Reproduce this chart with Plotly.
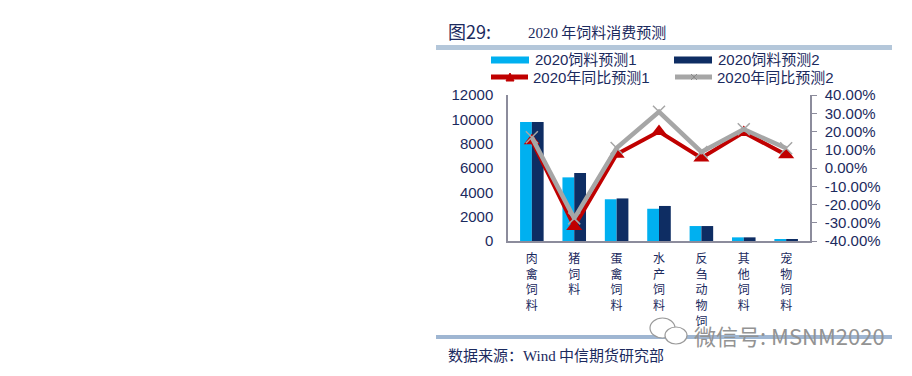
import plotly.graph_objects as go

# ---------------- data ----------------
categories = ["肉禽饲料", "猪饲料", "蛋禽饲料", "水产饲料", "反刍动物饲料", "其他饲料", "宠物饲料"]
feed_pred1 = [9780, 5230, 3430, 2650, 1230, 300, 110]
feed_pred2 = [9780, 5590, 3500, 2880, 1230, 300, 110]
yoy_pred1 = [0.150, -0.320, 0.075, 0.200, 0.055, 0.195, 0.072]
yoy_pred2 = [0.168, -0.276, 0.110, 0.308, 0.088, 0.212, 0.108]
left_tick_vals = [0, 2000, 4000, 6000, 8000, 10000, 12000]
left_tick_text = ["0", "2000", "4000", "6000", "8000", "10000", "12000"]
right_tick_vals = [-0.4, -0.3, -0.2, -0.1, 0.0, 0.1, 0.2, 0.3, 0.4]
right_tick_text = ["-40.00%", "-30.00%", "-20.00%", "-10.00%", "0.00%",
                   "10.00%", "20.00%", "30.00%", "40.00%"]
series_names = ["2020饲料预测1", "2020饲料预测2", "2020年同比预测1", "2020年同比预测2"]

# ---------------- geometry ----------------
OFF = 8                      # page body margin
W, H = 912 - 2 * OFF, 376 - 2 * OFF
PL, PR, PT, PB = 508, 810, 95, 241   # plot area in window pixels


def px(x):
    return (x - PL) / (PR - PL)


def py(y):
    return (PB - y) / (PB - PT)


NAVY = "#1b2a5e"
LIGHT = "#00b0f0"
DARK = "#0e2d63"
RED = "#c00000"
GRAY = "#a6a6a6"
AXIS = "#8c8c9c"
SANS = "Liberation Sans, Arial, Noto Sans CJK SC, sans-serif"
CJK = "Noto Sans CJK SC, sans-serif"

tick_text = ["<br>".join(list(c)) for c in categories]

fig = go.Figure()
fig.add_trace(go.Bar(x=categories, y=feed_pred1, name=series_names[0],
                     marker=dict(color=LIGHT, line=dict(width=0)), yaxis="y"))
fig.add_trace(go.Bar(x=categories, y=feed_pred2, name=series_names[1],
                     marker=dict(color=DARK, line=dict(width=0)), yaxis="y"))
fig.add_trace(go.Scatter(x=categories, y=yoy_pred1, name=series_names[2], yaxis="y2",
                         mode="lines+markers", line=dict(color=RED, width=4),
                         marker=dict(symbol="triangle-up", size=14, color=RED)))
fig.add_trace(go.Scatter(x=categories, y=yoy_pred2, name=series_names[3], yaxis="y2",
                         mode="lines+markers", line=dict(color=GRAY, width=4.5),
                         marker=dict(symbol="x-thin-open", size=12,
                                     line=dict(color=GRAY, width=1.5), color=GRAY)))

shapes = []
annotations = []

# top and bottom bars
shapes.append(dict(type="rect", xref="paper", yref="paper", x0=px(436), x1=px(892),
                   y0=py(45), y1=py(50), fillcolor="#b4c7da", line=dict(width=0)))
# white mask clipping the long category label
shapes.append(dict(type="rect", xref="paper", yref="paper", x0=px(436), x1=px(892),
                   y0=py(326), y1=py(376), fillcolor="white", line=dict(width=0), layer="above"))
shapes.append(dict(type="rect", xref="paper", yref="paper", x0=px(436), x1=px(892),
                   y0=py(335), y1=py(339), fillcolor="#9fb6d2", line=dict(width=0), layer="above"))

# title
annotations.append(dict(x=px(446), y=py(31), xref="paper", yref="paper", xanchor="left",
                        yanchor="middle", showarrow=False, text="图29:",
                        font=dict(family=CJK, size=18, color=NAVY)))
annotations.append(dict(x=px(526), y=py(31), xref="paper", yref="paper", xanchor="left",
                        yanchor="middle", showarrow=False,
                        text="<span style='font-family:Liberation Serif'>2020</span> 年饲料消费预测",
                        font=dict(family=CJK, size=15, color=NAVY)))

# custom legend
leg = [(491, 60, series_names[0], "bar", LIGHT),
       (674, 60, series_names[1], "bar", DARK),
       (489, 77, series_names[2], "line_tri", RED),
       (673, 77, series_names[3], "line_x", GRAY)]
for x0, yc, name, kind, col in leg:
    if kind == "bar":
        shapes.append(dict(type="rect", xref="paper", yref="paper", x0=px(x0), x1=px(x0 + 38),
                           y0=py(yc + 3.5), y1=py(yc - 3.5), fillcolor=col, line=dict(width=0)))
    else:
        shapes.append(dict(type="line", xref="paper", yref="paper", x0=px(x0 + 2), x1=px(x0 + 39),
                           y0=py(yc), y1=py(yc), line=dict(color=col, width=5)))
        cx = x0 + 21
        if kind == "line_tri":
            shapes.append(dict(type="path", xref="paper", yref="paper",
                               path=f"M {px(cx-4)} {py(yc+4)} L {px(cx+4)} {py(yc+4)} L {px(cx)} {py(yc-4)} Z",
                               fillcolor=col, line=dict(color=col, width=1)))
        else:
            shapes.append(dict(type="line", xref="paper", yref="paper", x0=px(cx - 3), x1=px(cx + 3),
                               y0=py(yc - 3), y1=py(yc + 3), line=dict(color="#8a8a8a", width=1)))
            shapes.append(dict(type="line", xref="paper", yref="paper", x0=px(cx - 3), x1=px(cx + 3),
                               y0=py(yc + 3), y1=py(yc - 3), line=dict(color="#8a8a8a", width=1)))
    annotations.append(dict(x=px(x0 + 42), y=py(yc), xref="paper", yref="paper", xanchor="left",
                            yanchor="middle", showarrow=False, text=name,
                            font=dict(family=SANS, size=15, color=NAVY)))

# source
annotations.append(dict(x=px(446), y=py(354), xref="paper", yref="paper", xanchor="left",
                        yanchor="middle", showarrow=False,
                        text="数据来源：<span style='font-family:Liberation Serif'>Wind</span> 中信期货研究部",
                        font=dict(family=CJK, size=15, color=NAVY)))

# watermark
shapes.append(dict(type="circle", xref="paper", yref="paper", x0=px(650), x1=px(675),
                   y0=py(318), y1=py(338), line=dict(color="#9a9a9a", width=1.2),
                   fillcolor="white", layer="above"))
shapes.append(dict(type="circle", xref="paper", yref="paper", x0=px(665), x1=px(687),
                   y0=py(327), y1=py(344), line=dict(color="#9a9a9a", width=1.2),
                   fillcolor="white", layer="above"))
annotations.append(dict(x=px(692), y=py(335), xref="paper", yref="paper", xanchor="left",
                        yanchor="middle", showarrow=False, text="微信号: MSNM2020",
                        font=dict(family=CJK, size=22, color="#939393")))

fig.update_layout(
    width=W, height=H,
    margin=dict(l=PL - OFF, r=W - (PR - OFF), t=PT - OFF, b=H - (PB - OFF), pad=0),
    paper_bgcolor="white", plot_bgcolor="white",
    showlegend=False,
    barmode="group", bargap=0.444, bargroupgap=0,
    xaxis=dict(tickmode="array", tickvals=categories, ticktext=tick_text,
               showline=True, linecolor=AXIS, linewidth=1.5, ticks="", showgrid=False,
               tickfont=dict(family=CJK, size=12, color=NAVY), ticklabelstandoff=6),
    yaxis=dict(range=[0, 12000], tickmode="array", tickvals=left_tick_vals,
               ticktext=left_tick_text, showgrid=False, zeroline=False,
               showline=True, linecolor=AXIS, linewidth=1.5, ticks="",
               tickfont=dict(family=SANS, size=15, color=NAVY), ticklabelstandoff=10),
    yaxis2=dict(range=[-0.4, 0.4], overlaying="y", side="right", tickmode="array",
                tickvals=right_tick_vals, ticktext=right_tick_text,
                showgrid=False, zeroline=False,
                showline=True, linecolor=AXIS, linewidth=1.5, ticks="outside", ticklen=5,
                tickcolor=AXIS, tickwidth=1.2,
                tickfont=dict(family=SANS, size=15, color=NAVY), ticklabelstandoff=5),
    annotations=annotations, shapes=shapes,
)

fig.write_html("out.html")
